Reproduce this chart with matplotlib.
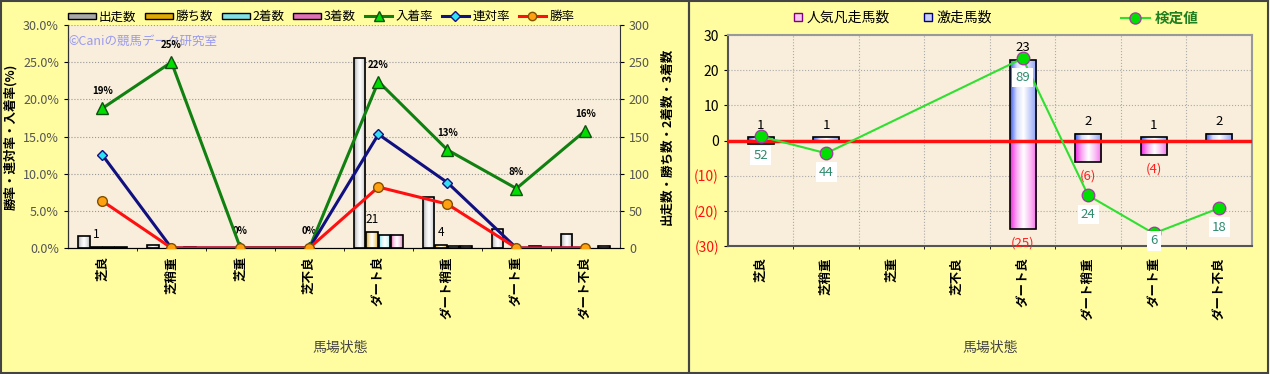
import numpy as np
import matplotlib
matplotlib.use("Agg")
import matplotlib.pyplot as plt
from matplotlib.colors import LinearSegmentedColormap
from matplotlib.patches import Rectangle, Patch
from matplotlib.lines import Line2D
from matplotlib.ticker import FuncFormatter

plt.rcParams["font.family"] = ["Noto Sans CJK JP", "DejaVu Sans"]

# ---- データ ----
馬場状態 = ["芝良", "芝稍重", "芝重", "芝不良", "ダート良", "ダート稍重", "ダート重", "ダート不良"]
出走数 = [16, 4, 0, 0, 255, 68, 25, 19]
勝ち数 = [1, 0, 0, 0, 21, 4, 0, 0]
二着数 = [1, 0, 0, 0, 18, 2, 0, 0]
三着数 = [1, 1, 0, 0, 18, 3, 2, 3]
勝率 = [6.3, 0.0, 0.0, 0.0, 8.2, 5.9, 0.0, 0.0]
連対率 = [12.5, 0.0, 0.0, 0.0, 15.3, 8.8, 0.0, 0.0]
入着率 = [18.8, 25.0, 0.0, 0.0, 22.4, 13.2, 8.0, 15.8]

激走馬数 = [1, 1, 0, 0, 23, 2, 1, 2]
人気凡走馬数 = [1, 0, 0, 0, 25, 6, 4, 0]
検定値 = [52, 44, np.nan, np.nan, 89, 24, 6, 18]

BG = "#FFFD9F"
PLOT_BG = "#F8EEDB"

fig = plt.figure(figsize=(12.7, 3.74), dpi=100)
fig.patch.set_facecolor(BG)
fig.patches.append(Rectangle((0.001, 0.003), 0.5415, 0.994, transform=fig.transFigure,
                             fill=False, ec="#444444", lw=1.5))
fig.patches.append(Rectangle((0.5425, 0.003), 0.456, 0.994, transform=fig.transFigure,
                             fill=False, ec="#444444", lw=1.5))


def grad_bar(ax, x, w, y0, y1, c_dark, profile=(0.0, 0.7, 1.0, 0.7, 0.15), z=3):
    if y1 == y0:
        return
    cmap = LinearSegmentedColormap.from_list("g", [c_dark, "white"])
    prof = np.interp(np.linspace(0, 1, 40), np.linspace(0, 1, len(profile)), profile)
    lo, hi = min(y0, y1), max(y0, y1)
    ax.imshow(prof[None, :], extent=(x - w / 2, x + w / 2, lo, hi), aspect="auto",
              cmap=cmap, vmin=0, vmax=1, zorder=z, interpolation="bilinear")
    ax.add_patch(Rectangle((x - w / 2, lo), w, hi - lo, fill=False, ec="black", lw=1.2, zorder=z + 0.1))


x = np.arange(len(馬場状態))

# ================= 左: 成績 =================
ax = fig.add_axes([0.0535, 0.337, 0.4346, 0.596])   # 率 (左軸)
axb = ax.twinx()                                     # 頭数 (右軸)
ax.set_zorder(axb.get_zorder() + 1)
ax.patch.set_visible(False)
axb.set_facecolor(PLOT_BG)
axb.patch.set_visible(True)

bw = 0.18
bar_sets = [(出走数, "#A8A8A8"), (勝ち数, "#E0A800"), (二着数, "#80E0E8"), (三着数, "#E070B8")]
for i, (vals, col) in enumerate(bar_sets):
    for xi, v in zip(x, vals):
        grad_bar(axb, xi + (i - 1.5) * bw, bw * 0.92, 0, v, col)
for xi, v in zip(x, 勝ち数):
    if v > 0:
        axb.text(xi - 0.5 * bw, v + 8, str(v), ha="center", va="bottom", fontsize=8.5)
axb.set_xlim(-0.5, 7.5)
axb.set_ylim(0, 300)
axb.set_yticks(range(0, 301, 50))
axb.set_ylabel("出走数・勝ち数・2着数・3着数", fontsize=9, fontweight="bold", labelpad=8)
axb.tick_params(axis="y", labelsize=9, labelcolor="#555555", length=3)
axb.set_xticks(np.arange(0.5, 7.5, 1), minor=True)
axb.grid(axis="x", which="minor", color="#999999", ls=":", lw=0.8)
axb.grid(axis="y", which="major", color="#999999", ls=":", lw=0.8)
axb.set_axisbelow(True)
axb.spines["top"].set_visible(False)
axb.spines["right"].set_color("#333333")
axb.text(0.0, 0.925, "©Caniの競馬データ研究室", transform=axb.transAxes, fontsize=9,
         color="#9A9AF0", ha="left", va="center", zorder=1)

ax.set_xlim(-0.5, 7.5)
ax.set_ylim(0, 30)
ax.set_yticks(range(0, 31, 5))
ax.yaxis.set_major_formatter(FuncFormatter(lambda v, p: f"{v:.1f}%"))
ax.tick_params(axis="y", labelsize=9, labelcolor="#555555", length=3)
ax.set_ylabel("勝率・連対率・入着率(%)", fontsize=9, fontweight="bold", labelpad=4)
ax.set_xticks(x)
ax.set_xticklabels(馬場状態, rotation=90, fontsize=9, fontweight="bold")
ax.tick_params(axis="x", length=0, pad=6)
ax.plot(x, 入着率, color="#108010", lw=2.2, marker="^", ms=8, mfc="#00DD00", mec="#105010", zorder=5)
ax.plot(x, 連対率, color="#101080", lw=2.2, marker="D", ms=5, mfc="#30E0F0", mec="#101080", zorder=5)
ax.plot(x, 勝率, color="#FF1010", lw=2.2, marker="o", ms=7, mfc="#FFA010", mec="#805000", zorder=6)
for xi, v in zip(x, 入着率):
    ax.text(xi, v + 1.6, f"{v:.0f}%", ha="center", va="bottom", fontsize=7, fontweight="bold")
for s in ["top", "right"]:
    ax.spines[s].set_visible(False)
ax.spines["left"].set_color("#333333")

handles = [Patch(fc=c, ec="black") for _, c in bar_sets] + [
    Line2D([], [], color="#108010", lw=2.2, marker="^", ms=7, mfc="#00DD00", mec="#105010"),
    Line2D([], [], color="#101080", lw=2.2, marker="D", ms=5, mfc="#30E0F0", mec="#101080"),
    Line2D([], [], color="#FF1010", lw=2.2, marker="o", ms=6, mfc="#FFA010", mec="#805000"),
]
labels = ["出走数", "勝ち数", "2着数", "3着数", "入着率", "連対率", "勝率"]
fig.legend(handles, labels, loc="center", bbox_to_anchor=(0.253, 0.955), ncol=7, frameon=False,
           fontsize=9, handlelength=2.2, handleheight=0.45, columnspacing=0.7, handletextpad=0.25)
fig.text(0.268, 0.069, "馬場状態", ha="center", va="center", fontsize=10, color="#444444")

# ================= 右: 検定 =================
bx = fig.add_axes([0.5732, 0.342, 0.4126, 0.564])
bx.set_facecolor(PLOT_BG)
bx.set_xlim(-0.5, 7.5)
bx.set_ylim(-30, 30)
w = 0.4
for xi, v in zip(x, 激走馬数):
    grad_bar(bx, xi, w, 0, v, "#4060F0", profile=(0.0, 0.8, 1.0, 0.7, 0.4))
    if v > 0:
        bx.text(xi, v + 1.5, str(v), ha="center", va="bottom", fontsize=9.5)
for xi, v in zip(x, 人気凡走馬数):
    grad_bar(bx, xi, w, 0, -v, "#F030E0", profile=(0.0, 0.6, 1.0, 0.7, 0.3))
    if v > 0:
        bx.text(xi, -v - 2.2, f"({v})", ha="center", va="top", fontsize=9.5, color="#FF2020")
bx.axhline(0, color="#FF1010", lw=2.5, zorder=4)
bx.set_yticks(range(-30, 31, 10))
bx.yaxis.set_major_formatter(FuncFormatter(lambda v, p: f"{v:.0f}" if v >= 0 else f"({-v:.0f})"))
bx.tick_params(axis="y", labelsize=10, length=3)
for t, v in zip(bx.get_yticklabels(), range(-30, 31, 10)):
    t.set_color("#FF1010" if v < 0 else "black")
bx.set_xticks(x)
bx.set_xticklabels(馬場状態, rotation=90, fontsize=9, fontweight="bold")
bx.tick_params(axis="x", length=0, pad=8)
bx.set_xticks(np.arange(0.5, 7.5, 1), minor=True)
bx.grid(axis="x", which="minor", color="#AAAAAA", ls=":", lw=0.8)
bx.grid(axis="y", which="major", color="#AAAAAA", ls=":", lw=0.8)
bx.set_axisbelow(True)
for s in ["top", "right"]:
    bx.spines[s].set_color("#999999")
    bx.spines[s].set_linewidth(1.5)
for s in ["left", "bottom"]:
    bx.spines[s].set_color("#555555")
    bx.spines[s].set_linewidth(1.5)

bx2 = bx.twinx()
bx2.set_ylim(0, 100)
bx2.set_yticks([])
for s in bx2.spines.values():
    s.set_visible(False)
kv = np.array(検定値, dtype=float)
ok = ~np.isnan(kv)
bx2.plot(x[ok], kv[ok], color="#30E030", lw=1.5,
         marker="o", ms=9, mfc="#00E000", mec="#A040A0", zorder=5)
for xi, v in zip(x[ok], kv[ok]):
    ly = max(v - 9, 2.5)   # ラベルは枠内に収める
    bx2.text(xi, ly, f"{v:.0f}", ha="center", va="center", fontsize=9.5, color="#2E8B6E",
             bbox=dict(boxstyle="square,pad=0.25", fc="white", ec="none"), zorder=7)

h2 = [Patch(fc="#F8C8F0", ec="#800080"), Patch(fc="#C8D0F8", ec="#000080")]
fig.legend(h2, ["人気凡走馬数", "激走馬数"], loc="center", bbox_to_anchor=(0.703, 0.952), ncol=2,
           frameon=False, fontsize=10, handlelength=0.6, handleheight=0.6, columnspacing=2.5,
           handletextpad=0.3)
h3 = [Line2D([], [], color="#30E030", lw=1.5, marker="o", ms=8, mfc="#00E000", mec="#A040A0")]
leg3 = fig.legend(h3, ["検定値"], loc="center", bbox_to_anchor=(0.913, 0.952), frameon=False,
                  fontsize=10.5, handlelength=2.0, handletextpad=0.3)
for t in leg3.get_texts():
    t.set_color("#208020")
    t.set_fontweight("bold")
fig.text(0.78, 0.069, "馬場状態", ha="center", va="center", fontsize=10, color="#444444")

fig.savefig("out.png", dpi=100, facecolor=BG)
